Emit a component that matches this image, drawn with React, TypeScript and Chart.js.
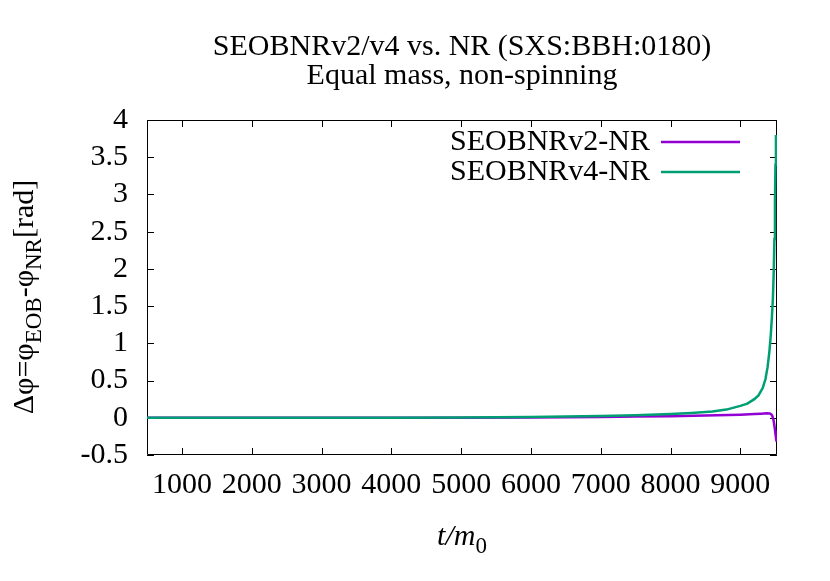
import React, { useEffect, useRef } from "react";
import { Chart, registerables } from "chart.js";

Chart.register(...registerables);

const titleLines = ["SEOBNRv2/v4 vs. NR (SXS:BBH:0180)", "Equal mass, non-spinning"];
const seriesNames = ["SEOBNRv2-NR", "SEOBNRv4-NR"];
const seriesColors = ["#9400d3", "#009e73"];

const v2Times = [500, 1000, 2000, 3000, 4000, 5000, 6000, 6500, 7000, 7500, 8000, 8500, 9000, 9200, 9300, 9380, 9420, 9445, 9460, 9475, 9487, 9497, 9505, 9512, 9518];
const v2Values = [0, 0, 0, 0, 0, 0.002, 0.005, 0.008, 0.012, 0.017, 0.022, 0.03, 0.042, 0.05, 0.055, 0.06, 0.058, 0.045, 0.02, -0.03, -0.1, -0.17, -0.23, -0.28, -0.32];

const v4Times = [500, 1000, 2000, 3000, 4000, 5000, 5500, 6000, 6500, 7000, 7500, 8000, 8300, 8600, 8800, 9000, 9100, 9200, 9260, 9320, 9360, 9390, 9415, 9435, 9452, 9466, 9478, 9488, 9496, 9503, 9510];
const v4Values = [0, 0, 0, 0, 0.002, 0.005, 0.008, 0.012, 0.018, 0.025, 0.035, 0.05, 0.065, 0.085, 0.11, 0.16, 0.19, 0.25, 0.3, 0.4, 0.52, 0.68, 0.88, 1.1, 1.35, 1.6, 1.95, 2.4, 2.9, 3.4, 3.8];

const xTickValues = [1000, 2000, 3000, 4000, 5000, 6000, 7000, 8000, 9000];
const yTickValues = [-0.5, 0, 0.5, 1, 1.5, 2, 2.5, 3, 3.5, 4];

const X_MIN = 500;
const X_MAX = 9525;
const Y_MIN = -0.5;
const Y_MAX = 4;

const FONT = "'Liberation Serif', 'Times New Roman', serif";
const FS = 30;
const SUB_FS = 23;

type Seg = { t: string; sub?: boolean; italic?: boolean };

function drawRich(ctx: CanvasRenderingContext2D, segs: Seg[], size: number, subSize: number, subShift: number) {
  const fontFor = (s: Seg) => `${s.italic ? "italic " : ""}${s.sub ? subSize : size}px ${FONT}`;
  let total = 0;
  const widths = segs.map((s) => {
    ctx.font = fontFor(s);
    const w = ctx.measureText(s.t).width;
    total += w;
    return w;
  });
  let x = -total / 2;
  ctx.textAlign = "left";
  ctx.textBaseline = "alphabetic";
  segs.forEach((s, i) => {
    ctx.font = fontFor(s);
    ctx.fillText(s.t, x, s.sub ? subShift : 0);
    x += widths[i];
  });
}

const decorPlugin = {
  id: "decor",
  beforeDatasetsDraw(chart: any) {
    const { ctx, chartArea: a, scales } = chart;
    ctx.save();
    ctx.strokeStyle = "#000";
    ctx.lineWidth = 1;
    ctx.beginPath();
    ctx.rect(a.left + 0.5, a.top + 0.5, a.right - a.left - 1, a.bottom - a.top - 1);
    ctx.stroke();
    const tl = 7;
    ctx.beginPath();
    xTickValues.forEach((v) => {
      const x = Math.round(scales.x.getPixelForValue(v)) + 0.5;
      ctx.moveTo(x, a.bottom);
      ctx.lineTo(x, a.bottom - tl);
      ctx.moveTo(x, a.top);
      ctx.lineTo(x, a.top + tl);
    });
    yTickValues.forEach((v) => {
      const y = Math.round(scales.y.getPixelForValue(v)) + 0.5;
      ctx.moveTo(a.left, y);
      ctx.lineTo(a.left + tl, y);
      ctx.moveTo(a.right, y);
      ctx.lineTo(a.right - tl, y);
    });
    ctx.stroke();
    ctx.restore();
  },
  afterDraw(chart: any) {
    const { ctx, chartArea: a } = chart;
    ctx.save();
    ctx.fillStyle = "#000";
    const cx = (a.left + a.right) / 2;
    ctx.font = `${FS}px ${FONT}`;
    ctx.textAlign = "center";
    ctx.textBaseline = "middle";
    ctx.fillText(titleLines[0], cx, 47);
    ctx.fillText(titleLines[1], cx, 76);
    const legY = [142, 172];
    seriesNames.forEach((name, i) => {
      ctx.font = `${FS}px ${FONT}`;
      ctx.textAlign = "right";
      ctx.textBaseline = "middle";
      ctx.fillStyle = "#000";
      ctx.fillText(name, 650, legY[i]);
      ctx.strokeStyle = seriesColors[i];
      ctx.lineWidth = 2.5;
      ctx.beginPath();
      ctx.moveTo(661, legY[i]);
      ctx.lineTo(740, legY[i]);
      ctx.stroke();
    });
    ctx.save();
    ctx.translate(cx, 545);
    drawRich(ctx, [{ t: "t", italic: true }, { t: "/", italic: true }, { t: "m", italic: true }, { t: "0", sub: true }], FS, SUB_FS, 8);
    ctx.restore();
    ctx.save();
    ctx.translate(33, 297);
    ctx.rotate(-Math.PI / 2);
    drawRich(
      ctx,
      [{ t: "Δφ=φ" }, { t: "EOB", sub: true }, { t: "-φ" }, { t: "NR", sub: true }, { t: "[rad]" }],
      FS,
      SUB_FS,
      8
    );
    ctx.restore();
    ctx.restore();
  },
};

export default function App() {
  const ref = useRef<HTMLCanvasElement | null>(null);
  useEffect(() => {
    if (!ref.current) return;
    const chart = new Chart(ref.current, {
      type: "line",
      data: {
        datasets: [
          {
            label: seriesNames[0],
            data: v2Times.map((t, i) => ({ x: t, y: v2Values[i] })),
            borderColor: seriesColors[0],
            borderWidth: 2.5,
            pointRadius: 0,
            tension: 0,
            fill: false,
            order: 1,
          },
          {
            label: seriesNames[1],
            data: v4Times.map((t, i) => ({ x: t, y: v4Values[i] })),
            borderColor: seriesColors[1],
            borderWidth: 2.5,
            pointRadius: 0,
            tension: 0,
            fill: false,
            order: 0,
          },
        ],
      },
      options: {
        animation: false,
        responsive: false,
        devicePixelRatio: 1,
        layout: { padding: { top: 120, right: 53, left: 0, bottom: 0 } },
        plugins: { legend: { display: false }, title: { display: false }, tooltip: { enabled: false } },
        scales: {
          x: {
            type: "linear",
            min: X_MIN,
            max: X_MAX,
            grid: { display: false, drawTicks: false },
            border: { display: false },
            afterBuildTicks: (s: any) => {
              s.ticks = xTickValues.map((v) => ({ value: v }));
            },
            afterFit: (s: any) => {
              s.height = 126;
            },
            ticks: {
              color: "#000",
              font: { family: FONT, size: FS },
              padding: 12,
              maxRotation: 0,
              autoSkip: false,
              callback: (v: any) => String(v),
            },
          },
          y: {
            type: "linear",
            min: Y_MIN,
            max: Y_MAX,
            grid: { display: false, drawTicks: false },
            border: { display: false },
            afterBuildTicks: (s: any) => {
              s.ticks = yTickValues.map((v) => ({ value: v }));
            },
            afterFit: (s: any) => {
              s.width = 147;
            },
            ticks: {
              color: "#000",
              font: { family: FONT, size: FS },
              padding: 19,
              autoSkip: false,
              callback: (v: any) => String(v),
            },
          },
        },
      },
      plugins: [decorPlugin],
    } as any);
    return () => chart.destroy();
  }, []);
  return (
    <div style={{ position: "fixed", left: 0, top: 0, width: 830, height: 581, background: "#fff" }}>
      <canvas ref={ref} width={830} height={581} />
    </div>
  );
}
